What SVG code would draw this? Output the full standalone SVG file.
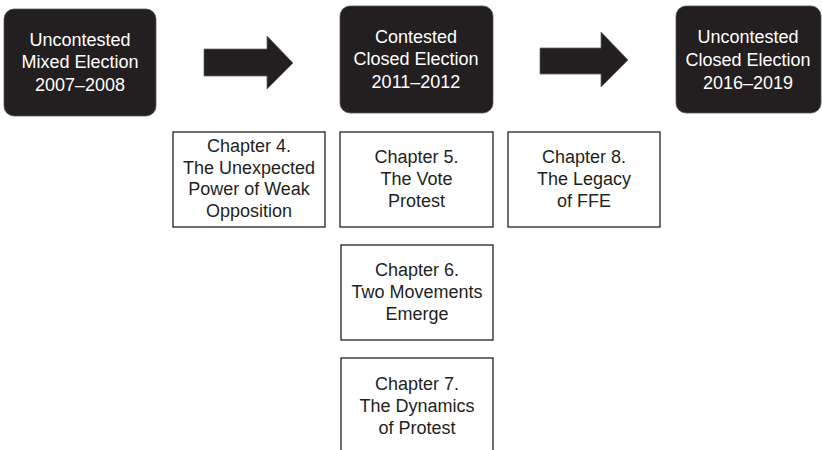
<svg xmlns="http://www.w3.org/2000/svg" width="822" height="450" viewBox="0 0 822 450">
<style>
.dark{fill:#231f20;stroke:#555;stroke-width:0.8}
.wt{fill:#fff;font-family:"Liberation Sans",Arial,sans-serif;font-size:18px;text-anchor:middle}
.ch{fill:#fff;stroke:#231f20;stroke-width:1.3}
.bt{fill:#231f20;font-family:"Liberation Sans",Arial,sans-serif;font-size:18px;text-anchor:middle}
.arr{fill:#231f20;stroke:#666;stroke-width:0.8}
</style>
<rect width="822" height="450" fill="#fff"/>
<g id="era1">
<rect class="dark" x="4" y="9" width="152" height="107" rx="10"/>
<text class="wt" x="80" y="46">Uncontested</text>
<text class="wt" x="80" y="68">Mixed Election</text>
<text class="wt" x="80" y="90.5">2007–2008</text>
</g>
<g id="era2">
<rect class="dark" x="340" y="6" width="153" height="107" rx="10"/>
<text class="wt" x="416" y="42.5">Contested</text>
<text class="wt" x="416" y="65">Closed Election</text>
<text class="wt" x="416" y="88">2011–2012</text>
</g>
<g id="era3">
<rect class="dark" x="676" y="6" width="145" height="107" rx="10"/>
<text class="wt" x="748" y="43">Uncontested</text>
<text class="wt" x="748" y="66">Closed Election</text>
<text class="wt" x="748" y="88.5">2016–2019</text>
</g>
<g id="connectors">
<polygon class="arr" points="204,49 267,49 267,36 293,63 267,89 267,76 204,76"/>
<polygon class="arr" points="540,48 601,48 601,32 628,60 601,87 601,74 540,74"/>
</g>
<g id="ch4">
<rect class="ch" x="173" y="132" width="152" height="95"/>
<text class="bt" x="249" y="152">Chapter 4.</text>
<text class="bt" x="249" y="173.5">The Unexpected</text>
<text class="bt" x="249" y="195">Power of Weak</text>
<text class="bt" x="249" y="216.5">Opposition</text>
</g>
<g id="ch5">
<rect class="ch" x="340" y="132" width="153" height="95"/>
<text class="bt" x="416.5" y="163">Chapter 5.</text>
<text class="bt" x="416.5" y="185">The Vote</text>
<text class="bt" x="416.5" y="207">Protest</text>
</g>
<g id="ch8">
<rect class="ch" x="508" y="132" width="152" height="95"/>
<text class="bt" x="584" y="163">Chapter 8.</text>
<text class="bt" x="584" y="185">The Legacy</text>
<text class="bt" x="584" y="207">of FFE</text>
</g>
<g id="ch6">
<rect class="ch" x="341" y="245" width="152" height="95"/>
<text class="bt" x="417" y="276">Chapter 6.</text>
<text class="bt" x="417" y="298">Two Movements</text>
<text class="bt" x="417" y="320">Emerge</text>
</g>
<g id="ch7">
<rect class="ch" x="341" y="358" width="152" height="100"/>
<text class="bt" x="417" y="390">Chapter 7.</text>
<text class="bt" x="417" y="412">The Dynamics</text>
<text class="bt" x="417" y="434">of Protest</text>
</g>
</svg>
